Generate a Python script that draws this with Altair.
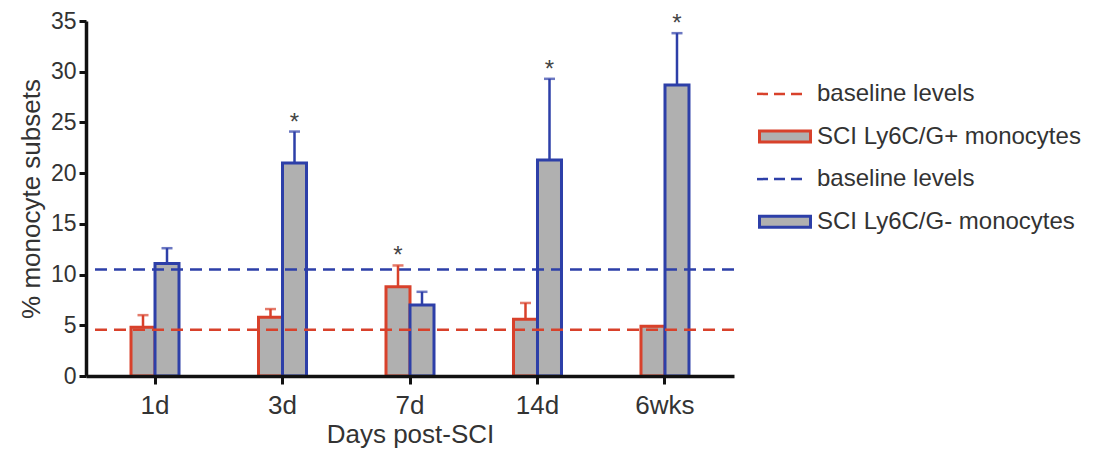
import altair as alt
import pandas as pd

# ---- data ----
days = ["1d", "3d", "7d", "14d", "6wks"]
subsets = ["SCI Ly6C/G+ monocytes", "SCI Ly6C/G- monocytes"]
pos_mean = [4.8, 5.8, 8.8, 5.6, 4.9]
pos_upper = [6.0, 6.6, 10.9, 7.2, 4.9]
neg_mean = [11.1, 21.0, 7.0, 21.3, 28.7]
neg_upper = [12.6, 24.1, 8.3, 29.3, 33.8]
pos_sig = [False, False, True, False, False]
neg_sig = [False, True, False, True, True]
baseline_pos = 4.55
baseline_neg = 10.5
y_ticks = [0, 5, 10, 15, 20, 25, 30, 35]

legend_items = ["bpos", "spos", "bneg", "sneg"]
legend_labels = ["baseline levels", "SCI Ly6C/G+ monocytes", "baseline levels", "SCI Ly6C/G- monocytes"]
legend_kinds = ["line", "box", "line", "box"]

RED = "#d8412b"
BLUE = "#2d3fa8"
HATCH = "#b0b0b0"
FONT = "Liberation Sans"

rows = []
for i, d in enumerate(days):
    rows.append(dict(day=d, subset=subsets[0], mean=pos_mean[i], upper=pos_upper[i], sig=pos_sig[i]))
    rows.append(dict(day=d, subset=subsets[1], mean=neg_mean[i], upper=neg_upper[i], sig=neg_sig[i]))
df = pd.DataFrame(rows)

base_df = pd.DataFrame({"subset": subsets, "level": [baseline_pos, baseline_neg]})

color_scale = alt.Scale(domain=subsets, range=[RED, BLUE])

x_enc = alt.X(
    "day:N", sort=days,
    scale=alt.Scale(paddingInner=0.6235, paddingOuter=0.353),
    axis=alt.Axis(title="Days post-SCI", labelAngle=0, labelFontSize=26, labelColor="#333",
                  labelPadding=8, tickSize=8, tickWidth=3, tickColor="#111",
                  domainColor="#111", domainWidth=3.5, titleFontSize=26,
                  titleFontWeight="normal", titleColor="#333", titlePadding=3, zindex=1),
)
xo_enc = alt.XOffset("subset:N", sort=subsets,
                     scale=alt.Scale(domain=subsets, paddingInner=0, paddingOuter=0))
y_scale = alt.Scale(domain=[0, 35], nice=False)
y_axis = alt.Axis(title="% monocyte subsets", values=y_ticks, grid=False, labelFontSize=23,
                  labelColor="#333", labelPadding=3, tickSize=7, tickWidth=3, tickColor="#111",
                  domainColor="#111", domainWidth=3.5, titleFontSize=26, titleFontWeight="normal",
                  titleColor="#333", titlePadding=6, zindex=1)

base = alt.Chart(df)

bars = base.mark_bar(fill=HATCH, strokeWidth=3).encode(
    x=x_enc, xOffset=xo_enc,
    y=alt.Y("mean:Q", scale=y_scale, axis=y_axis),
    stroke=alt.Stroke("subset:N", scale=color_scale, legend=None),
)

baselines = alt.Chart(base_df).mark_rule(strokeWidth=2.5, strokeDash=[12, 7]).encode(
    y=alt.Y("level:Q", scale=y_scale),
    color=alt.Color("subset:N", scale=color_scale, legend=None),
)

err = base.mark_rule(strokeWidth=2.5).encode(
    x=alt.X("day:N", sort=days), xOffset=xo_enc,
    y=alt.Y("mean:Q", scale=y_scale), y2="upper:Q",
    color=alt.Color("subset:N", scale=color_scale, legend=None),
)

caps = base.mark_tick(thickness=2.5, size=11).encode(
    x=alt.X("day:N", sort=days), xOffset=xo_enc,
    y=alt.Y("upper:Q", scale=y_scale),
    color=alt.Color("subset:N", scale=color_scale, legend=None),
)

stars = base.transform_filter("datum.sig").mark_text(
    text="*", fontSize=24, color="#444", baseline="alphabetic", dy=-2, font=FONT
).encode(
    x=alt.X("day:N", sort=days), xOffset=xo_enc,
    y=alt.Y("upper:Q", scale=y_scale),
)

main = alt.layer(bars, baselines, err, caps, stars).properties(width=648, height=355)

# ---- custom legend panel ----
leg_df = pd.DataFrame({
    "item": legend_items, "label": legend_labels, "kind": legend_kinds,
    "col": [RED, RED, BLUE, BLUE],
})
leg_domain = ["_spacer"] + legend_items
ly = alt.Y("item:N", sort=leg_domain,
           scale=alt.Scale(type="point", domain=leg_domain, padding=0.71), axis=None)
leg = alt.Chart(leg_df)
leg_lines = leg.transform_filter("datum.kind == 'line'").mark_rule(
    strokeWidth=2.5, strokeDash=[11, 6]).encode(
    x=alt.value(3), x2=alt.value(53), y=ly, color=alt.Color("col:N", scale=None))
leg_box_outer = leg.transform_filter("datum.kind == 'box'").mark_rule(
    strokeWidth=14, strokeCap="butt").encode(
    x=alt.value(4), x2=alt.value(58), y=ly, color=alt.Color("col:N", scale=None))
leg_box_inner = leg.transform_filter("datum.kind == 'box'").mark_rule(
    strokeWidth=8, strokeCap="butt", color=HATCH).encode(
    x=alt.value(7), x2=alt.value(55), y=ly)
leg_text = leg.mark_text(align="left", baseline="middle", fontSize=24, color="#333", font=FONT).encode(
    x=alt.value(63), y=ly, text="label:N")

legend = alt.layer(leg_lines, leg_box_outer, leg_box_inner, leg_text).properties(width=340, height=231)

chart = alt.hconcat(main, legend, spacing=20, bounds="flush").properties(
    padding={"left": 18, "top": 10, "right": 5, "bottom": 5}
).configure(font=FONT, view=alt.ViewConfig(stroke=None))

chart.save("out.html", embed_options={"renderer": "svg", "actions": False})
